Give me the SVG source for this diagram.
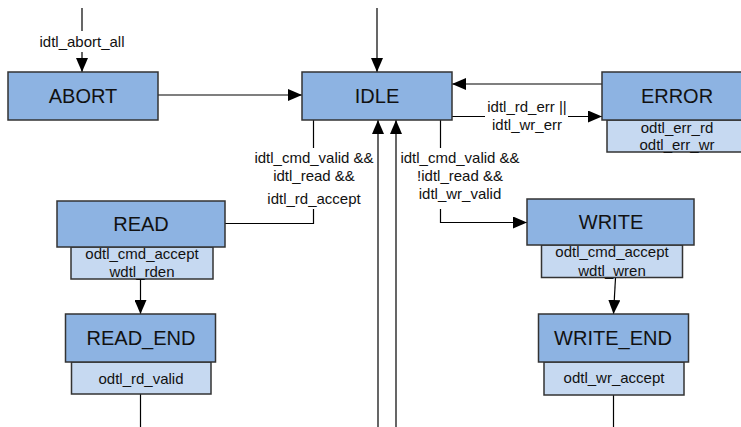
<svg xmlns="http://www.w3.org/2000/svg" width="741" height="427" viewBox="0 0 741 427">
<defs>
<marker id="ah" viewBox="0 0 14 12" refX="14" refY="6" markerWidth="14" markerHeight="12" markerUnits="userSpaceOnUse" orient="auto">
<path d="M0,0 L14,6 L0,12 z" fill="#000"/>
</marker>
<style>
.st{fill:#8DB3E2;stroke:#333;stroke-width:1.5}
.sub{fill:#C6D9F1;stroke:#333;stroke-width:1.5}
.n{font-family:"Liberation Sans",Arial,sans-serif;font-size:20px;fill:#111;text-anchor:middle}
.s{font-family:"Liberation Sans",Arial,sans-serif;font-size:15px;fill:#111;text-anchor:middle}
.c{fill:none;stroke:#000;stroke-width:1.2}
</style>
</defs>
<rect width="741" height="427" fill="#fff"/>
<g id="connectors">
<line class="c" x1="82" y1="8" x2="82" y2="31"/>
<line class="c" x1="82" y1="52" x2="82" y2="72" marker-end="url(#ah)"/>
<line class="c" x1="377" y1="8" x2="377" y2="72" marker-end="url(#ah)"/>
<line class="c" x1="158" y1="95" x2="302" y2="95" marker-end="url(#ah)"/>
<line class="c" x1="602" y1="84" x2="452" y2="84" marker-end="url(#ah)"/>
<line class="c" x1="452" y1="116.5" x2="485" y2="116.5"/>
<line class="c" x1="568" y1="116.5" x2="602" y2="116.5" marker-end="url(#ah)"/>
<line class="c" x1="313.5" y1="120" x2="313.5" y2="148"/>
<polyline class="c" points="313.5,209 313.5,223.5 225,223.5"/>
<line class="c" x1="440.5" y1="120" x2="440.5" y2="148"/>
<polyline class="c" points="440.5,209 440.5,222.5 527,222.5" marker-end="url(#ah)"/>
<line class="c" x1="378" y1="427" x2="378" y2="120" marker-end="url(#ah)"/>
<line class="c" x1="396" y1="427" x2="396" y2="120" marker-end="url(#ah)"/>
<line class="c" x1="140.5" y1="279" x2="140.5" y2="314" marker-end="url(#ah)"/>
<line class="c" x1="615.5" y1="278" x2="613.5" y2="314" marker-end="url(#ah)"/>
<line class="c" x1="140.5" y1="394" x2="140.5" y2="427"/>
<line class="c" x1="613.5" y1="395" x2="613.5" y2="427"/>
<text class="s" x="82" y="47">idtl_abort_all</text>
<text class="s" x="314" y="163">idtl_cmd_valid &amp;&amp;</text>
<text class="s" x="314" y="181">idtl_read &amp;&amp;</text>
<text class="s" x="314" y="204">idtl_rd_accept</text>
<text class="s" x="460" y="163">idtl_cmd_valid &amp;&amp;</text>
<text class="s" x="460" y="181">!idtl_read &amp;&amp;</text>
<text class="s" x="460" y="199">idtl_wr_valid</text>
<text class="s" x="527" y="112">idtl_rd_err ||</text>
<text class="s" x="527" y="130">idtl_wr_err</text>
</g>
<g id="ABORT">
<rect class="st" x="8" y="72" width="150" height="48"/>
<text class="n" x="83" y="103">ABORT</text>
</g>
<g id="IDLE">
<rect class="st" x="302" y="72" width="150" height="48"/>
<text class="n" x="377" y="103">IDLE</text>
</g>
<g id="ERROR">
<rect class="sub" x="607" y="120" width="140" height="32"/>
<rect class="st" x="602" y="72" width="150" height="48"/>
<text class="n" x="677" y="103">ERROR</text>
<text class="s" x="677" y="133">odtl_err_rd</text>
<text class="s" x="677" y="150">odtl_err_wr</text>
</g>
<g id="READ">
<rect class="sub" x="71" y="247" width="142" height="32"/>
<rect class="st" x="57" y="201" width="168" height="46"/>
<text class="n" x="141" y="231">READ</text>
<text class="s" x="142" y="259">odtl_cmd_accept</text>
<text class="s" x="142" y="277">wdtl_rden</text>
</g>
<g id="READ_END">
<rect class="sub" x="71.5" y="362" width="139.5" height="32"/>
<rect class="st" x="65.5" y="314" width="150" height="48"/>
<text class="n" x="141" y="345">READ_END</text>
<text class="s" x="141" y="384">odtl_rd_valid</text>
</g>
<g id="WRITE">
<rect class="sub" x="541.5" y="245" width="141" height="32.5"/>
<rect class="st" x="527" y="199" width="167" height="46"/>
<text class="n" x="611" y="229">WRITE</text>
<text class="s" x="612" y="257">odtl_cmd_accept</text>
<text class="s" x="612" y="276">wdtl_wren</text>
</g>
<g id="WRITE_END">
<rect class="sub" x="544" y="362" width="140" height="33"/>
<rect class="st" x="538.5" y="314" width="150" height="48"/>
<text class="n" x="613" y="345">WRITE_END</text>
<text class="s" x="614" y="383">odtl_wr_accept</text>
</g>
</svg>
